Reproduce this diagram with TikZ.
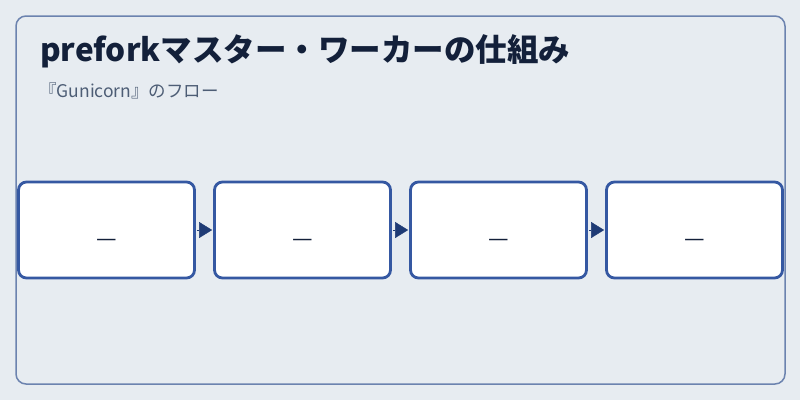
\documentclass[tikz,border=0pt]{standalone}
\usepackage{fontspec}
\setmainfont{Noto Sans CJK JP}
\usetikzlibrary{positioning,arrows.meta}

\definecolor{bgcol}{HTML}{E7ECF1}
\definecolor{framecol}{HTML}{6C83AF}
\definecolor{boxcol}{HTML}{3558A2}
\definecolor{arrowcol}{HTML}{1F3B75}
\definecolor{titlecol}{HTML}{13203A}
\definecolor{subcol}{HTML}{4D5D75}

\tikzset{
  stepbox/.style={draw=boxcol, fill=white, line width=2.8pt, rounded corners=8pt,
    minimum width=176pt, minimum height=96pt, inner sep=0pt,
    font=\fontsize{23}{23}\selectfont, text=titlecol},
  flow/.style={arrowcol, line width=0.4pt, -{Triangle[length=13pt,width=16pt]},
    shorten <=1pt, shorten >=1pt}
}
\newcommand{\stepdash}{\raisebox{-16.5pt}[0pt][0pt]{—}}

\begin{document}
\begin{tikzpicture}[x=1pt,y=-1pt]
\fill [bgcol] (0,0) rectangle (800,400);
\useasboundingbox (0,0) rectangle (800,400);
\draw [framecol, line width=1.5pt, rounded corners=10pt] (16,16) rectangle (785,384);
% title and subtitle
\node (title) [anchor=base west, inner sep=0pt, text=titlecol,
  font=\fontsize{31.5}{31.5}\selectfont\bfseries] at (40,61) {preforkマスター・ワーカーの仕組み};
\node (sub) [anchor=base west, inner sep=0pt, text=subcol,
  font=\fontsize{17.5}{17.5}\selectfont] at (39,97) {『Gunicorn』のフロー};
% the four steps
\node (s1) [stepbox] at (106.5,230) {\stepdash};
\node (s2) [stepbox, right=17.2pt of s1] {\stepdash};
\node (s3) [stepbox, right=17.2pt of s2] {\stepdash};
\node (s4) [stepbox, right=17.2pt of s3] {\stepdash};
\draw [flow] (s1) -- (s2);
\draw [flow] (s2) -- (s3);
\draw [flow] (s3) -- (s4);
\end{tikzpicture}
\end{document}
